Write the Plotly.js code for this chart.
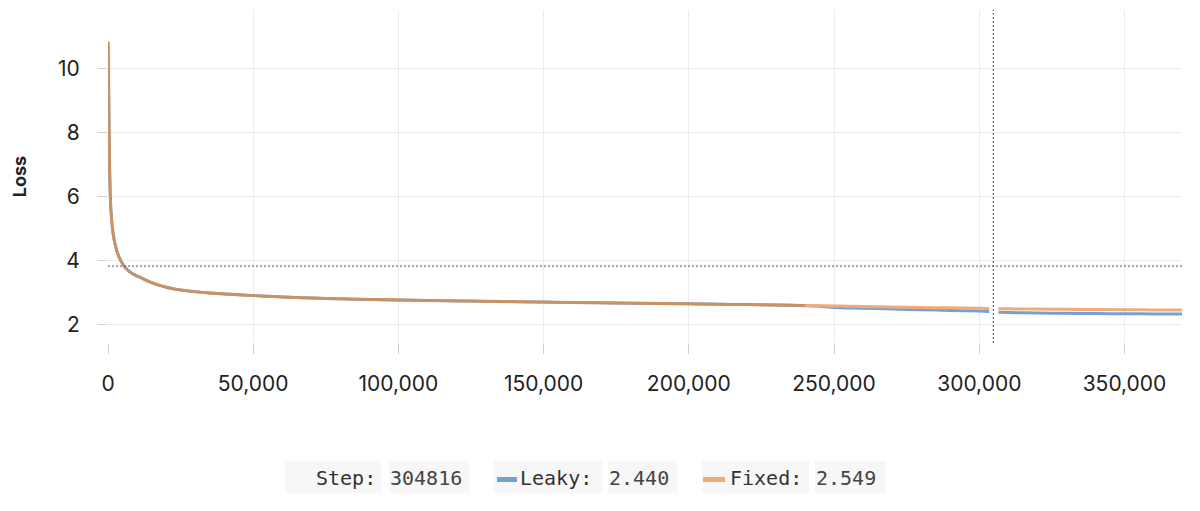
<!DOCTYPE html>
<html>
<head>
<meta charset="utf-8">
<script src="https://cdn.plot.ly/plotly-3.0.1.min.js"></script>
<style>
html,body{margin:0;padding:0;background:#fff;}
#chart{width:1200px;height:511px;}
</style>
</head>
<body>
<div id="chart"></div>
<script>
// ---- data ----
const steps = [0,150,300,500,700,1000,1500,2000,2500,3000,3500,4000,4500,5000,5500,6000,7000,8000,9000,10000,11000,12500,15000,17500,20000,22500,25000,27500,30000,35000,40000,45000,50000,55000,60000,65000,70000,75000,80000,90000,100000,110000,120000,130000,140000,150000,160000,170000,180000,190000,200000,210000,220000,230000,240000,245000,250000,260000,270000,280000,290000,300000,303400,304816,306600,310000,320000,330000,340000,350000,360000,369800];

const fixedLoss = [10.85,10.1,8.7,7.2,6.3,5.6,5.05,4.72,4.5,4.33,4.19,4.08,3.99,3.92,3.85,3.79,3.70,3.63,3.575,3.53,3.49,3.425,3.325,3.245,3.18,3.13,3.095,3.065,3.04,3.0,2.97,2.945,2.92,2.897,2.876,2.858,2.843,2.83,2.818,2.798,2.78,2.765,2.752,2.74,2.728,2.715,2.703,2.692,2.682,2.672,2.662,2.65,2.637,2.624,2.61,2.603,2.595,2.58,2.565,2.55,2.535,2.52,2.515,null,2.51,2.505,2.497,2.49,2.483,2.477,2.472,2.467];

const leakyLoss = [10.85,10.1,8.7,7.2,6.3,5.6,5.05,4.72,4.5,4.33,4.19,4.08,3.99,3.92,3.85,3.79,3.70,3.63,3.575,3.53,3.49,3.425,3.325,3.245,3.18,3.13,3.095,3.065,3.04,3.0,2.97,2.945,2.92,2.897,2.876,2.858,2.843,2.83,2.818,2.798,2.78,2.765,2.752,2.74,2.728,2.715,2.703,2.692,2.682,2.672,2.662,2.65,2.637,2.624,2.605,2.585,2.55,2.525,2.5,2.475,2.455,2.435,2.425,null,2.4,2.39,2.375,2.365,2.357,2.35,2.345,2.34];

const seriesNames = ["Leaky","Fixed"];
const xTickVals = [0,50000,100000,150000,200000,250000,300000,350000];
const yTickVals = [2,4,6,8,10];
const cursorStep = 304816;
const cursorLoss = 3.84;
const cursorValues = ["2.440","2.549"];
const splitStep = 240000;

// ---- styling ----
const blue = "#76a0d2";
const orange = "#f1ab7a";
const overlap = "#cd9160";
const W = 1200, H = 511;
const mL = 108, mR = 18, mT = 10, mB = 168;
const pw = W - mL - mR, ph = H - mT - mB;
const px = x => (x - mL) / pw;
const py = y => (H - mB - y) / ph;

const splitIdx = steps.indexOf(splitStep);

const traces = [
  {x: steps, y: leakyLoss, name: seriesNames[0], type: "scatter", mode: "lines",
   line: {color: blue, width: 3, shape: "spline", smoothing: 0.6}, connectgaps: false, hoverinfo: "skip"},
  {x: steps.slice(0, splitIdx + 1), y: fixedLoss.slice(0, splitIdx + 1), name: seriesNames[1], type: "scatter", mode: "lines",
   line: {color: overlap, width: 2.8, shape: "spline", smoothing: 0.6}, connectgaps: false, hoverinfo: "skip"},
  {x: steps.slice(splitIdx), y: fixedLoss.slice(splitIdx), name: seriesNames[1], type: "scatter", mode: "lines",
   line: {color: orange, width: 3, shape: "spline", smoothing: 0.6}, connectgaps: false, hoverinfo: "skip"}
];

const boxFill = "#f7f7f7";
const legendTop = 461, legendBot = 493, legendMid = 478;
const boxes = [[285,381],[389,469],[494,602],[608,677],[702,809],[815,886]];

const shapes = [
  // cursor crosshair
  {type: "line", xref: "x", yref: "paper", x0: cursorStep, x1: cursorStep, y0: 0, y1: 1,
   line: {color: "#3f5068", width: 1, dash: "2px,2px"}},
  {type: "line", xref: "paper", yref: "y", x0: 0, x1: 1, y0: cursorLoss, y1: cursorLoss,
   line: {color: "#3f5068", width: 1, dash: "2px,2px"}}
];
boxes.forEach(b => shapes.push({type: "rect", xref: "paper", yref: "paper",
  x0: px(b[0]), x1: px(b[1]), y0: py(legendBot), y1: py(legendTop),
  fillcolor: boxFill, line: {width: 0}, layer: "below"}));
// swatches
shapes.push({type: "rect", xref: "paper", yref: "paper", x0: px(497), x1: px(517), y0: py(482), y1: py(477),
  fillcolor: blue, line: {width: 0}});
shapes.push({type: "rect", xref: "paper", yref: "paper", x0: px(703), x1: px(725), y0: py(482), y1: py(477),
  fillcolor: orange, line: {width: 0}});

const monoFont = {family: "DejaVu Sans Mono, monospace", size: 20, color: "#333"};
const valFont = {family: "DejaVu Sans Mono, monospace", size: 20, color: "#444"};
function ann(text, xPix, anchor, font) {
  return {text: text, xref: "paper", yref: "paper", x: px(xPix), y: py(legendMid),
    xanchor: anchor, yanchor: "middle", showarrow: false, font: font};
}
const annotations = [
  ann("Step:", 378, "right", monoFont),
  ann(String(cursorStep), 388, "left", valFont),
  ann(seriesNames[0] + ":", 518, "left", monoFont),
  ann(cursorValues[0], 607, "left", valFont),
  ann(seriesNames[1] + ":", 728, "left", monoFont),
  ann(cursorValues[1], 814, "left", valFont)
];

const layout = {
  width: W, height: H,
  margin: {l: mL, r: mR, t: mT, b: mB, pad: 0},
  paper_bgcolor: "#fff", plot_bgcolor: "#fff",
  showlegend: false,
  hovermode: false,
  font: {family: "Inter, Roboto, sans-serif", color: "#222"},
  xaxis: {
    range: [0, 369800], tickvals: xTickVals, tickformat: ",d",
    showgrid: true, gridcolor: "#ebebeb", gridwidth: 1,
    zeroline: false, showline: false,
    ticks: "outside", ticklen: 10, tickcolor: "#cfcfcf", tickwidth: 1,
    ticklabelstandoff: 12,
    tickfont: {family: "Inter, Roboto, sans-serif", size: 21, color: "#222"}
  },
  yaxis: {
    range: [1.4375, 11.84], tickvals: yTickVals,
    showgrid: true, gridcolor: "#ebebeb", gridwidth: 1,
    zeroline: false, showline: false,
    ticks: "outside", ticklen: 9, tickcolor: "#cfcfcf", tickwidth: 1,
    ticklabelstandoff: 14,
    tickfont: {family: "Inter, Roboto, sans-serif", size: 21, color: "#222"},
    title: {text: "<b>Loss</b>", standoff: 26, font: {family: "Inter, Roboto, sans-serif", size: 18, color: "#222"}}
  },
  shapes: shapes,
  annotations: annotations
};

Plotly.newPlot("chart", traces, layout, {displayModeBar: false, staticPlot: true});
</script>
</body>
</html>
